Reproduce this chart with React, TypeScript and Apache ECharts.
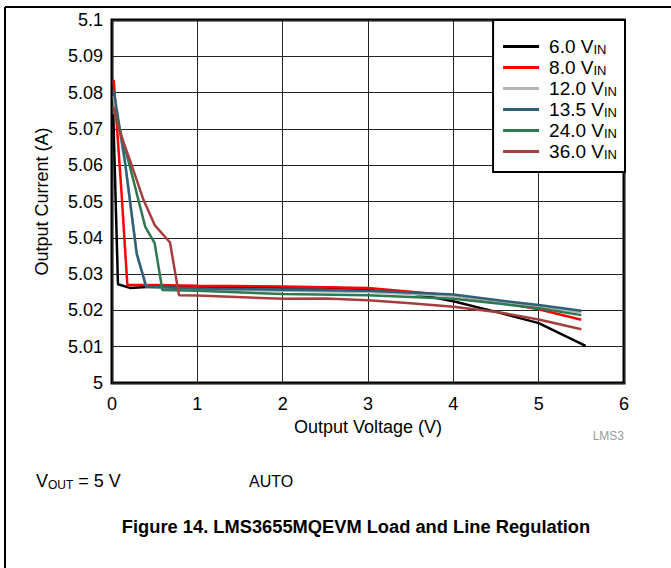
import React, { useEffect, useRef } from "react";
import * as echarts from "echarts";

// ---- data ----
const legendNames = ["6.0", "8.0", "12.0", "13.5", "24.0", "36.0"];

const vin6_0: [number, number][] = [
  [0.015, 5.074], [0.07, 5.0272], [0.21, 5.0262], [0.5, 5.0266], [1, 5.0266],
  [2, 5.0263], [2.5, 5.0263], [3, 5.0258], [3.5, 5.0248], [4, 5.0225],
  [4.5, 5.0196], [5, 5.0165], [5.55, 5.0102],
];
const vin8_0: [number, number][] = [
  [0.02, 5.0835], [0.11, 5.053], [0.18, 5.027], [0.5, 5.027], [1, 5.0268],
  [2, 5.0266], [3, 5.0262], [4, 5.0241], [4.55, 5.0222], [5, 5.0203], [5.5, 5.0174],
];
const vin12_0: [number, number][] = [
  [0.02, 5.079], [0.15, 5.061], [0.29, 5.0352], [0.41, 5.0263], [1, 5.0258],
  [2, 5.0254], [3, 5.0251], [4, 5.024], [5, 5.0211], [5.5, 5.0194],
];
const vin13_5: [number, number][] = [
  [0.02, 5.0805], [0.15, 5.0614], [0.29, 5.0357], [0.4, 5.0265], [1, 5.026],
  [2, 5.0257], [3, 5.0254], [4, 5.0244], [4.55, 5.0227], [5, 5.0215], [5.5, 5.0199],
];
const vin24_0: [number, number][] = [
  [0.02, 5.076], [0.2, 5.0605], [0.39, 5.043], [0.5, 5.0385], [0.59, 5.0256],
  [1, 5.0254], [2, 5.0245], [3, 5.0242], [4, 5.0232], [4.55, 5.0218], [5, 5.0206], [5.5, 5.0187],
];
const vin36_0: [number, number][] = [
  [0.02, 5.076], [0.07, 5.0705], [0.21, 5.0614], [0.37, 5.0504], [0.5, 5.0435],
  [0.68, 5.0387], [0.785, 5.0242], [1, 5.0241], [2, 5.0232], [2.5, 5.0233],
  [3, 5.0228], [3.5, 5.022], [4, 5.021], [4.55, 5.0194], [5, 5.0175], [5.5, 5.0148],
];

const xTicks = { min: 0, max: 6, interval: 1 };
const yTicks = { min: 5, max: 5.1, interval: 0.01 };

const FONT = "'Liberation Sans', Arial, Helvetica, sans-serif";
const colors = ["#000000", "#ff0000", "#b4b4b4", "#2f6079", "#2d7a50", "#a63e3e"];

export default function App() {
  const ref = useRef<HTMLDivElement>(null);

  useEffect(() => {
    document.body.style.margin = "0";
    if (!ref.current) return;
    const chart = echarts.init(ref.current, undefined, { renderer: "svg" });
    const dataSets = [vin6_0, vin8_0, vin12_0, vin13_5, vin24_0, vin36_0];

    const option: any = {
      animation: false,
      backgroundColor: "#ffffff",
      textStyle: { fontFamily: FONT },
      grid: {
        left: 112, right: 47, top: 20, bottom: 185,
        show: true, borderColor: "#000", borderWidth: 3, backgroundColor: "transparent",
      },
      legend: {
        orient: "vertical",
        right: 46,
        top: 20,
        backgroundColor: "#fff",
        borderColor: "#000",
        borderWidth: 2,
        borderRadius: 0,
        padding: [17, 8, 11, 10],
        itemGap: 2,
        itemWidth: 36,
        itemHeight: 3,
        icon: "rect",
        data: legendNames,
        formatter: (name: string) => `{a|${name} V}{s|IN}`,
        textStyle: {
          fontFamily: FONT,
          color: "#000",
          rich: {
            a: { fontSize: 19, lineHeight: 19, fontFamily: FONT, padding: [0, 0, 0, 5] },
            s: { fontSize: 13, lineHeight: 9, verticalAlign: "bottom", fontFamily: FONT },
          },
        },
      },
      xAxis: {
        type: "value",
        min: xTicks.min, max: xTicks.max, interval: xTicks.interval,
        name: "Output Voltage (V)",
        nameLocation: "middle",
        nameGap: 35,
        nameTextStyle: { fontSize: 18, color: "#000", fontFamily: FONT },
        axisLine: { show: false },
        axisTick: { show: false },
        axisLabel: { fontSize: 18, color: "#000", margin: 12, fontFamily: FONT },
        splitLine: { show: true, lineStyle: { color: "#222", width: 1 } },
      },
      yAxis: {
        type: "value",
        min: yTicks.min, max: yTicks.max, interval: yTicks.interval,
        name: "Output Current (A)",
        nameLocation: "middle",
        nameGap: 61,
        nameTextStyle: { fontSize: 18, color: "#000", fontFamily: FONT },
        axisLine: { show: false },
        axisTick: { show: false },
        axisLabel: {
          fontSize: 18, color: "#000", margin: 9, fontFamily: FONT,
          formatter: (v: number) => String(Number(v.toFixed(2))),
        },
        splitLine: { show: true, lineStyle: { color: "#222", width: 1 } },
      },
      series: legendNames.map((n, i) => ({
        name: n,
        type: "line",
        data: dataSets[i],
        symbol: "none",
        lineStyle: { color: colors[i], width: 2.5 },
        itemStyle: { color: colors[i] },
        z: 2 + i,
      })),
      graphic: [
        { type: "line", shape: { x1: 5, y1: 7, x2: 671, y2: 7 }, style: { stroke: "#000", lineWidth: 2 }, silent: true },
        { type: "line", shape: { x1: 5, y1: 7, x2: 5, y2: 568 }, style: { stroke: "#000", lineWidth: 2 }, silent: true },
        {
          type: "text", x: 624, y: 436,
          style: { text: "LMS3", fontSize: 12, fill: "#9a9a9a", fontFamily: FONT, align: "right", verticalAlign: "middle" },
        },
        {
          type: "text", x: 36, y: 481,
          style: {
            text: "{a|V}{s|OUT}{a| = 5 V}",
            fontFamily: FONT, verticalAlign: "middle", align: "left",
            rich: {
              a: { fontSize: 18, lineHeight: 20, fontFamily: FONT, fill: "#000" },
              s: { fontSize: 12, lineHeight: 9, verticalAlign: "bottom", fontFamily: FONT, fill: "#000" },
            },
          },
        },
        {
          type: "text", x: 249, y: 481,
          style: { text: "AUTO", fontSize: 16, fill: "#000", fontFamily: FONT, verticalAlign: "middle" },
        },
        {
          type: "text", x: 356, y: 526,
          style: {
            text: "Figure 14. LMS3655MQEVM Load and Line Regulation",
            fontSize: 18.3, fontWeight: "bold", fill: "#000", fontFamily: FONT,
            align: "center", verticalAlign: "middle",
          },
        },
      ],
    };
    chart.setOption(option);
    return () => chart.dispose();
  }, []);

  return <div ref={ref} style={{ width: 671, height: 568 }} />;
}
